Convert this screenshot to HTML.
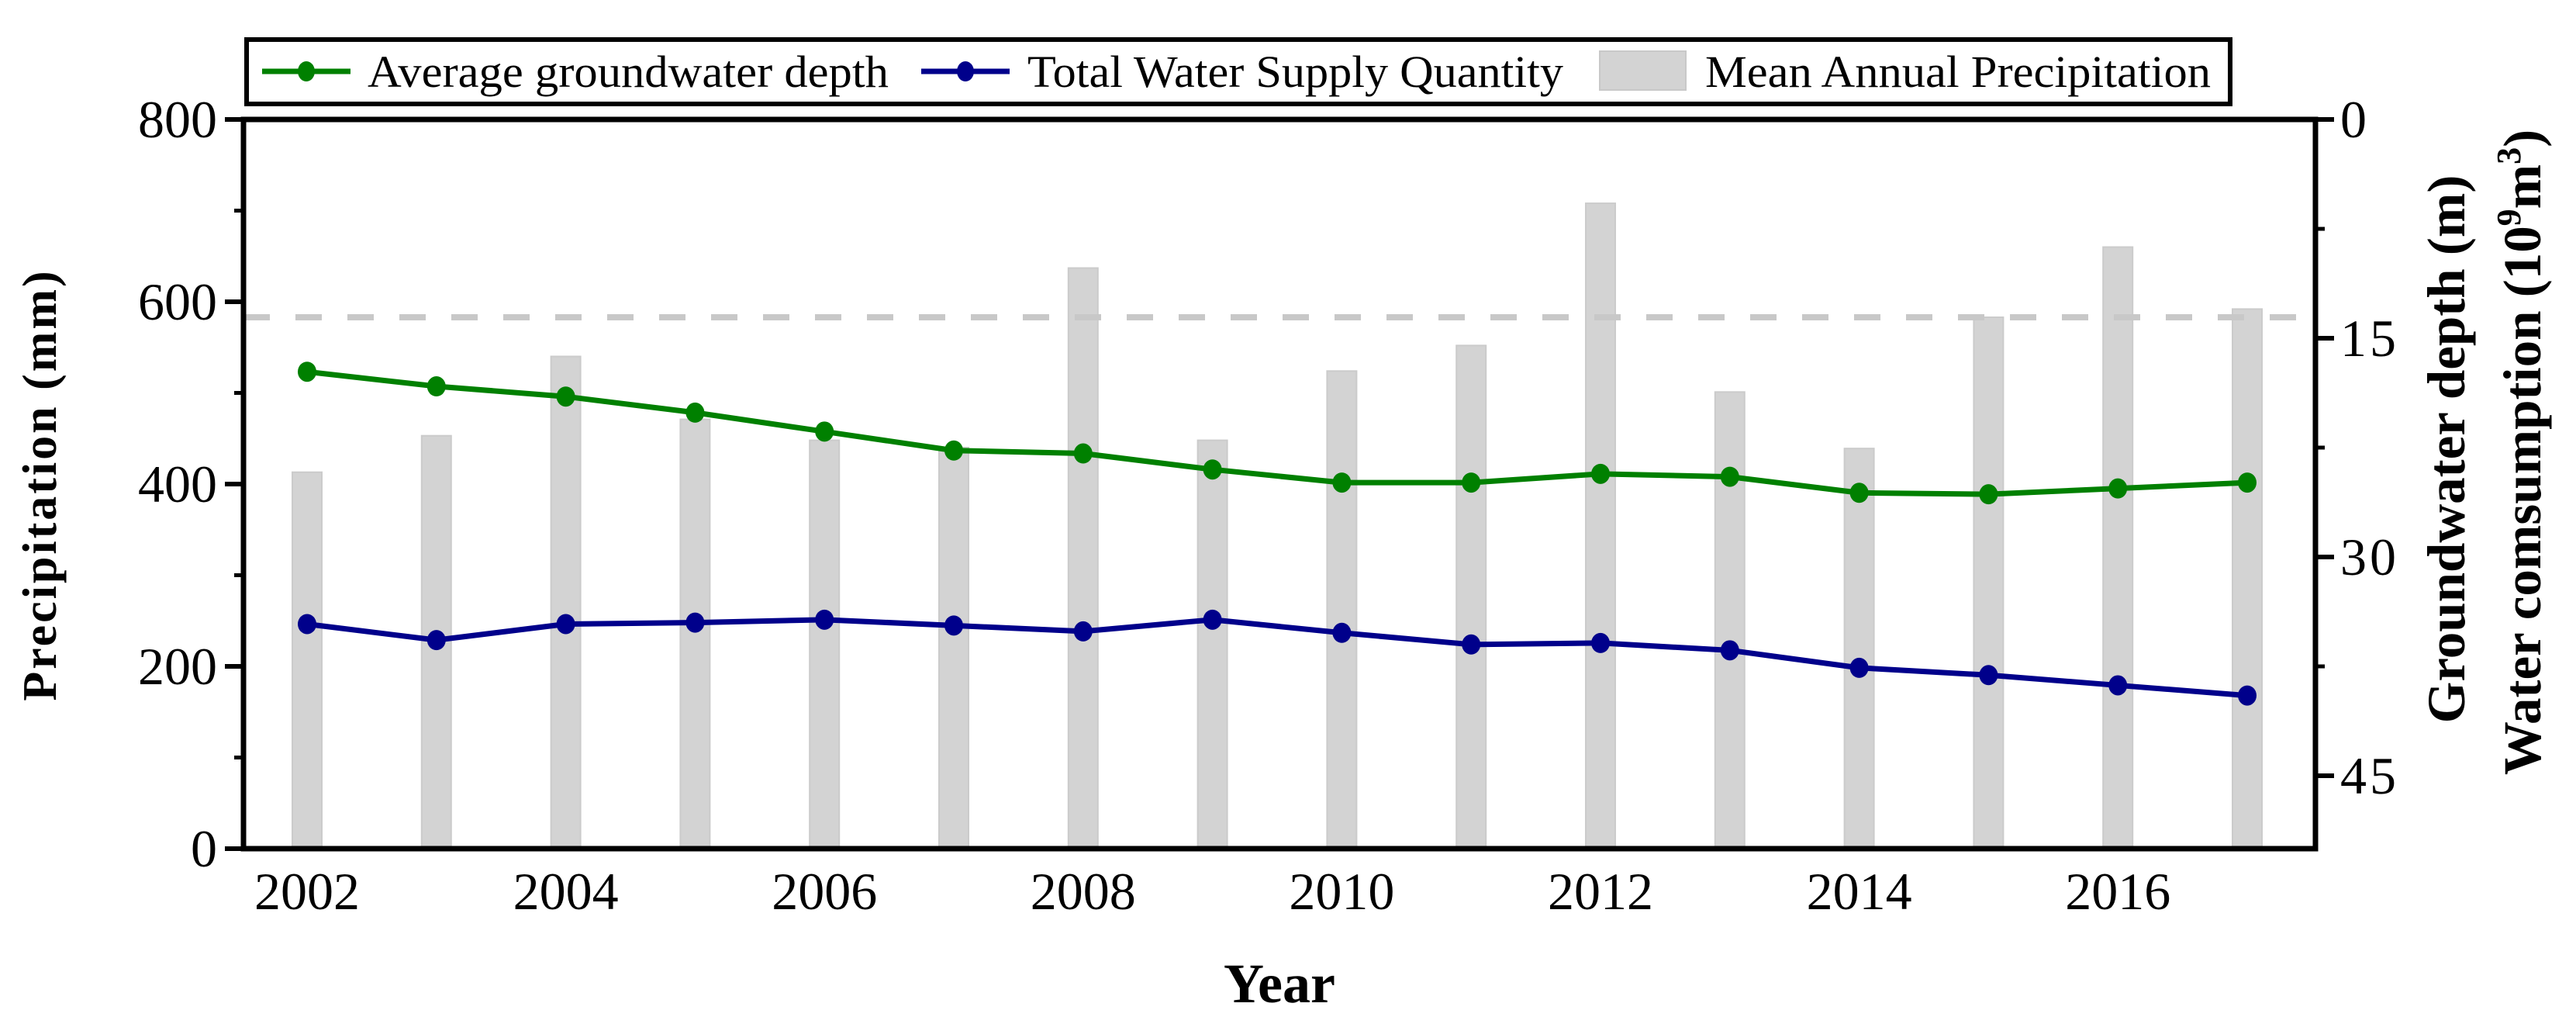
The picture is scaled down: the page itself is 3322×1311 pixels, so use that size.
<!DOCTYPE html>
<html><head><meta charset="utf-8"><style>
html,body{margin:0;padding:0;background:#fff;}
svg{display:block;font-family:"Liberation Serif",serif;}
</style></head><body>
<svg id="chart" width="3322" height="1311" viewBox="0 0 3322 1311" xmlns="http://www.w3.org/2000/svg">
<g id="bars"></g>
<line id="meanline" stroke="#c8c8c8" stroke-width="8" stroke-dasharray="34 33"/>
<g id="lines"></g>
<g id="axes"></g>
<text x="1650" y="1292" font-size="72" font-weight="bold" text-anchor="middle">Year</text>
<text transform="translate(72,625) rotate(-90)" font-size="62" font-weight="bold" text-anchor="middle" letter-spacing="3">Precipitation (mm)</text>
<text transform="translate(3178,579) rotate(-90)" font-size="69" font-weight="bold" text-anchor="middle">Groundwater depth (m)</text>
<text transform="translate(3276,583) rotate(-90)" font-size="69" font-weight="bold" text-anchor="middle">Water comsumption (10<tspan font-size="44" dy="-26">9</tspan><tspan dy="26">m</tspan><tspan font-size="44" dy="-26">3</tspan><tspan dy="26">)</tspan></text>
<g>
<rect x="318" y="51" width="2558" height="83" fill="#fff" stroke="#000" stroke-width="6"/>
<g>
<line x1="338" y1="92" x2="452" y2="92" stroke="#008000" stroke-width="7"/><ellipse cx="395" cy="92" rx="11" ry="13" fill="#008000"/>
<text x="474" y="112" font-size="58" textLength="672" lengthAdjust="spacingAndGlyphs">Average groundwater depth</text></g>
<g>
<line x1="1188" y1="92" x2="1302" y2="92" stroke="#00008b" stroke-width="7"/><ellipse cx="1245" cy="92" rx="11" ry="13" fill="#00008b"/>
<text x="1325" y="112" font-size="58" textLength="691" lengthAdjust="spacingAndGlyphs">Total Water Supply Quantity</text></g>
<g>
<rect x="2063" y="66" width="111" height="50" fill="#d3d3d3" stroke="#c8c8c8" stroke-width="2"/>
<text x="2199" y="112" font-size="58" textLength="652" lengthAdjust="spacingAndGlyphs">Mean Annual Precipitation</text></g>
</g>
</svg>
<script>
const years = [2002,2003,2004,2005,2006,2007,2008,2009,2010,2011,2012,2013,2014,2015,2016,2017];
const precipitation = [413,453,540,471,448,440,637,448,524,552,708,501,439,583,660,592];
const meanPrecip = [583];
const groundwaterDepth = [17.3,18.3,19.0,20.1,21.4,22.7,22.9,24.0,24.9,24.9,24.3,24.5,25.6,25.7,25.3,24.9];
const waterSupply = [34.6,35.7,34.6,34.5,34.3,34.7,35.1,34.3,35.2,36.0,35.9,36.4,37.6,38.1,38.8,39.5];
const leftTicks = [0,200,400,600,800];
const rightTicks = [0,15,30,45];
const xTicks = [2002,2004,2006,2008,2010,2012,2014,2016];

const NS='http://www.w3.org/2000/svg';
const X0=314,X1=2986,Y0=154,Y1=1094;
const xs = y => 396 + (y-2002)*(2898-396)/15;
const yl = v => Y1 - v*(Y1-Y0)/800;
const yr = v => Y0 + v*(Y1-Y0)/50;
function mk(tag,attrs,parent){const e=document.createElementNS(NS,tag);for(const k in attrs)e.setAttribute(k,attrs[k]);parent.appendChild(e);return e;}

const bars=document.getElementById('bars');
years.forEach((yr_,i)=>{
  const b=mk('rect',{x:xs(yr_)-19,y:yl(precipitation[i]),width:38,height:Y1-yl(precipitation[i]),fill:'#d3d3d3',stroke:'#cbcbcb','stroke-width':2},bars);
  
  
});
const ml=document.getElementById('meanline');
ml.setAttribute('x1',X0);ml.setAttribute('x2',X1);ml.setAttribute('y1',yl(meanPrecip[0]));ml.setAttribute('y2',yl(meanPrecip[0]));

const lines=document.getElementById('lines');
function series(vals,color,name){
  const p=mk('polyline',{points:vals.map((v,i)=>xs(years[i])+','+yr(v)).join(' '),fill:'none',stroke:color,'stroke-width':7,'stroke-linejoin':'round'},lines);
  
  
  vals.forEach((v,i)=>{
    const c=mk('ellipse',{cx:xs(years[i]),cy:yr(v),rx:12,ry:13,fill:color},lines);
    
    
  });
}
series(groundwaterDepth,'#008000','groundwater-depth');
series(waterSupply,'#00008b','water-supply');

const ax=document.getElementById('axes');
mk('rect',{x:X0,y:Y0,width:X1-X0,height:Y1-Y0,fill:'none',stroke:'#000','stroke-width':7},ax);
leftTicks.forEach(v=>{
  mk('line',{x1:X0-24,x2:X0,y1:yl(v),y2:yl(v),stroke:'#000','stroke-width':6},ax);
  const t=mk('text',{x:X0-34,y:yl(v)+23,'font-size':68,'text-anchor':'end'},ax);t.textContent=v;
  
  
  if(v<800) mk('line',{x1:X0-12,x2:X0,y1:yl(v+100),y2:yl(v+100),stroke:'#000','stroke-width':5},ax);
});
rightTicks.forEach(v=>{
  mk('line',{x1:X1,x2:X1+24,y1:yr(v),y2:yr(v),stroke:'#000','stroke-width':6},ax);
  if(v<45) mk('line',{x1:X1,x2:X1+12,y1:yr(v+7.5),y2:yr(v+7.5),stroke:'#000','stroke-width':5},ax);
  const t=mk('text',{x:X1+32,y:yr(v)+23,'font-size':68,'letter-spacing':4},ax);t.textContent=v;
  
  
});
xTicks.forEach(v=>{
  const t=mk('text',{x:xs(v),y:1172,'font-size':68,'text-anchor':'middle'},ax);t.textContent=v;
  
  
});
</script>
</body></html>
